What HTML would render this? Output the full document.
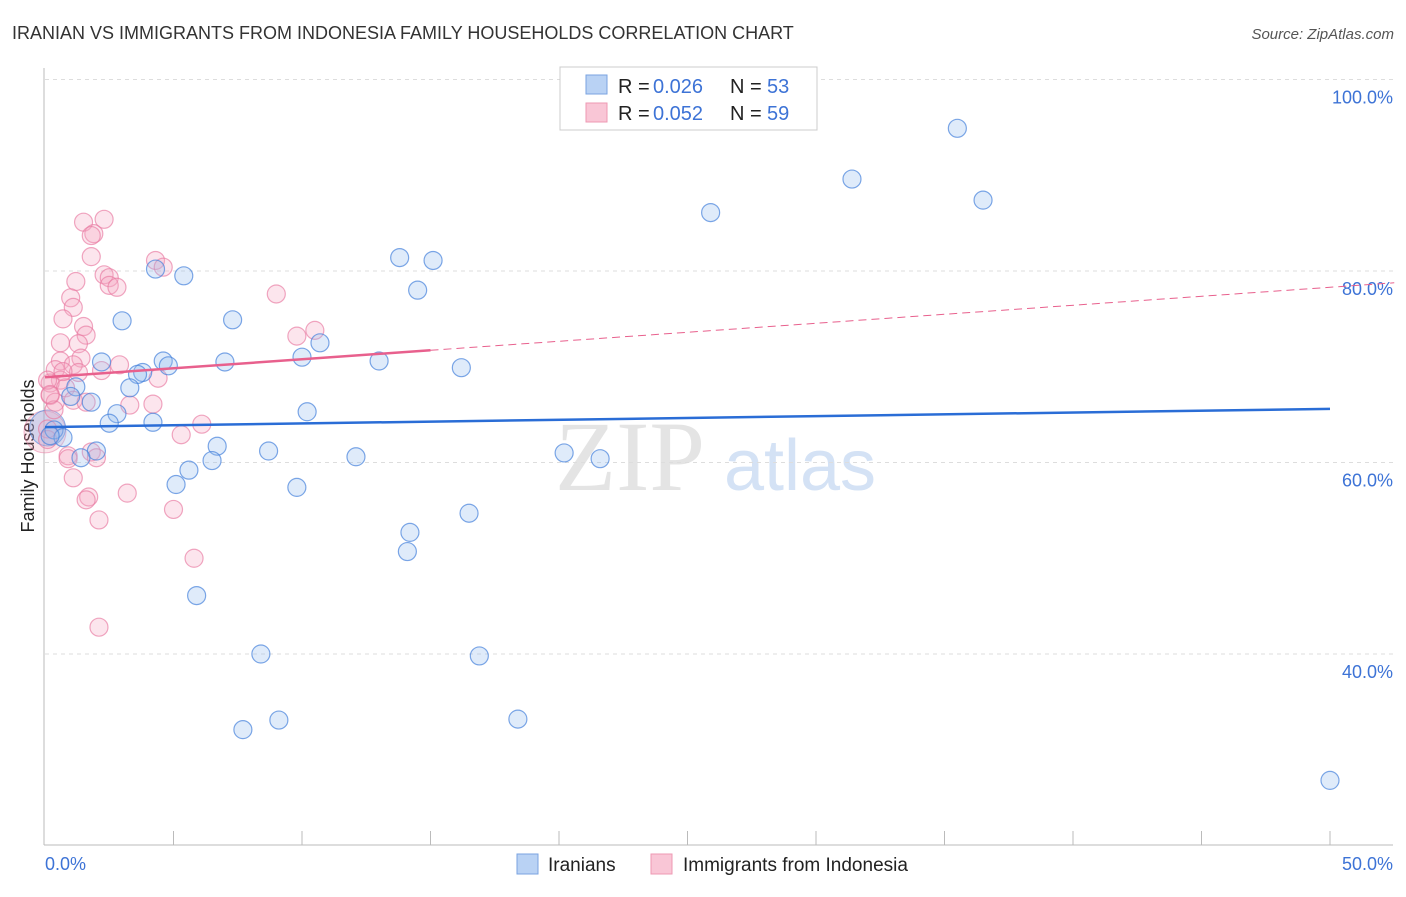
<!DOCTYPE html>
<html><head><meta charset="utf-8"><style>
body{margin:0;background:#fff;font-family:"Liberation Sans",sans-serif;}
</style></head><body>
<svg id="chart" width="1406" height="892" xmlns="http://www.w3.org/2000/svg" style="font-family:'Liberation Sans',sans-serif">
<text x="12" y="39" font-size="18" fill="#333">IRANIAN VS IMMIGRANTS FROM INDONESIA FAMILY HOUSEHOLDS CORRELATION CHART</text>
<text x="1394" y="39" font-size="15" fill="#555" font-style="italic" text-anchor="end">Source: ZipAtlas.com</text>
<text x="630" y="490" font-size="100" fill="#e4e4e4" font-family="Liberation Serif,serif" text-anchor="middle">ZIP</text>
<text x="800" y="490" font-size="72" fill="#d4e2f5" text-anchor="middle">atlas</text>
<text transform="translate(34,456) rotate(-90)" font-size="18" fill="#222" text-anchor="middle">Family Households</text>
<g id="grid"></g><g id="pts"></g><g id="trends"></g>
<g>
<rect x="560" y="67" width="257" height="63" fill="#fff" stroke="#ccc"/>
<rect x="586" y="75" width="21" height="19" fill="#b9d2f4" stroke="#7aa3e0"/>
<rect x="586" y="103" width="21" height="19" fill="#f9c6d6" stroke="#ee98b3"/>
<text x="618" y="93" font-size="20" fill="#222">R = </text>
<text x="653" y="93" font-size="20" fill="#3d73d6">0.026</text>
<text x="730" y="93" font-size="20" fill="#222">N = </text>
<text x="767" y="93" font-size="20" fill="#3d73d6">53</text>
<text x="618" y="120" font-size="20" fill="#222">R = </text>
<text x="653" y="120" font-size="20" fill="#3d73d6">0.052</text>
<text x="730" y="120" font-size="20" fill="#222">N = </text>
<text x="767" y="120" font-size="20" fill="#3d73d6">59</text>
</g>
<g>
<rect x="517" y="854" width="21" height="20" fill="#b9d2f4" stroke="#7aa3e0"/>
<text x="548" y="871" font-size="19" fill="#222">Iranians</text>
<rect x="651" y="854" width="21" height="20" fill="#f9c6d6" stroke="#ee98b3"/>
<text x="683" y="871" font-size="19" fill="#222">Immigrants from Indonesia</text>
</g>
</svg>
<script>
const xTicks=[0,5,10,15,20,25,30,35,40,45,50];
const yTicks=[40,60,80,100];
const blueX=[35.5,31.4,36.5,25.9,13.8,15.1,4.3,5.4,14.5,3.0,7.3,10.7,10.0,2.2,4.6,4.8,7.0,13.0,16.2,3.8,3.6,1.2,3.3,1.0,1.8,10.2,2.8,4.2,2.5,0.35,0.7,0.2,2.0,6.7,8.7,12.1,1.4,6.5,20.2,21.6,5.6,5.1,9.8,16.5,14.2,14.1,5.9,8.4,16.9,9.1,7.7,18.4,50.0];
const blueY=[94.9,89.6,87.4,86.1,81.4,81.1,80.2,79.5,78.0,74.8,74.9,72.5,71.0,70.5,70.6,70.1,70.5,70.6,69.9,69.4,69.2,67.9,67.8,66.9,66.3,65.3,65.1,64.2,64.1,63.4,62.6,62.8,61.2,61.7,61.2,60.6,60.5,60.2,61.0,60.4,59.2,57.7,57.4,54.7,52.7,50.7,46.1,40.0,39.8,33.1,32.1,33.2,26.8];
const pinkX=[1.5,2.3,1.9,1.8,1.8,4.3,4.6,1.2,2.3,2.5,2.5,2.8,9.0,1.0,1.1,0.7,1.5,1.6,10.5,9.8,0.6,1.3,1.4,0.6,2.9,1.1,2.2,1.3,0.4,0.6,0.2,0.8,4.4,0.2,0.4,1.1,3.3,4.2,1.6,6.1,0.1,5.3,1.8,0.9,0.9,2.0,1.1,1.7,1.6,3.2,5.0,2.1,5.8,2.1,0.1,0.35,0.1,0.7,0.2];
const pinkY=[85.1,85.4,83.9,83.7,81.5,81.1,80.4,78.9,79.6,79.3,78.5,78.3,77.6,77.2,76.2,75.0,74.2,73.3,73.8,73.2,72.5,72.4,70.9,70.6,70.2,70.2,69.6,69.4,69.7,68.6,68.3,67.8,68.8,67.0,66.3,66.5,66.0,66.1,66.3,64.0,63.5,62.9,61.1,60.7,60.4,60.5,58.4,56.4,56.1,56.8,55.1,54.0,50.0,42.8,62.4,65.5,68.6,69.5,67.1];
const blueTrend=[63.7,65.6];
const pinkTrend=[68.9,78.3];
const pinkSolidEnd=15;
const NS='http://www.w3.org/2000/svg';
const X=v=>45+v*25.7, Y=v=>79.5+(100-v)*9.575;
function mk(t,a,p){const e=document.createElementNS(NS,t);for(const k in a)e.setAttribute(k,a[k]);p.appendChild(e);return e;}
const grid=document.getElementById('grid');
const ax=mk('line',{x1:44,y1:68,x2:44,y2:845,stroke:'#bbb'},grid);


const bx=mk('line',{x1:44,y1:845,x2:1393,y2:845,stroke:'#bbb'},grid);


yTicks.forEach(t=>{
 const g=mk('line',{x1:45,x2:1393,y1:Y(t),y2:Y(t),stroke:'#ddd','stroke-dasharray':'4,4'},grid);
 
 
 const l=mk('text',{x:1393,y:Y(t)+24,'font-size':18,fill:'#3d73d6','text-anchor':'end'},grid);
 l.textContent=t.toFixed(1)+'%';
 
 
});
xTicks.forEach((t,i)=>{
 if(i>0){const k=mk('line',{x1:X(t),x2:X(t),y1:831,y2:845,stroke:'#bbb'},grid);
 
 }
});
[[0,'start',45],[50,'end',1393]].forEach(([t,a,x])=>{
 const l=mk('text',{x:x,y:870,'font-size':18,fill:'#3d73d6','text-anchor':a},grid);
 l.textContent=t.toFixed(1)+'%';
 
 
});
const pts=document.getElementById('pts');
const big1=mk('circle',{cx:X(0),cy:Y(63.2),r:21,fill:'rgba(240,150,180,0.25)',stroke:'rgba(232,120,160,0.5)'},pts);


const big2=mk('circle',{cx:X(0.1),cy:Y(63.6),r:18,fill:'rgba(120,165,230,0.3)',stroke:'rgba(70,130,220,0.6)'},pts);


pinkX.forEach((x,i)=>{const c=mk('circle',{cx:X(x),cy:Y(pinkY[i]),r:9,fill:'rgba(245,170,195,0.3)',stroke:'rgba(232,120,160,0.65)','stroke-width':1.2},pts);
 
 });
blueX.forEach((x,i)=>{const c=mk('circle',{cx:X(x),cy:Y(blueY[i]),r:9,fill:'rgba(150,190,240,0.3)',stroke:'rgba(70,130,220,0.7)','stroke-width':1.2},pts);
 
 });
const tr=document.getElementById('trends');
const b=mk('line',{x1:X(0),y1:Y(blueTrend[0]),x2:X(50),y2:Y(blueTrend[1]),stroke:'#2a6dd6','stroke-width':2.5},tr);


const pAt=x=>pinkTrend[0]+(pinkTrend[1]-pinkTrend[0])*x/50;
const p1=mk('line',{x1:X(0),y1:Y(pAt(0)),x2:X(pinkSolidEnd),y2:Y(pAt(pinkSolidEnd)),stroke:'#e8608d','stroke-width':2.5},tr);


const p2=mk('line',{x1:X(pinkSolidEnd),y1:Y(pAt(pinkSolidEnd)),x2:X(52.5),y2:Y(pAt(52.5)),stroke:'#e8608d','stroke-width':1,'stroke-dasharray':'8,5'},tr);


</script>
</body></html>
